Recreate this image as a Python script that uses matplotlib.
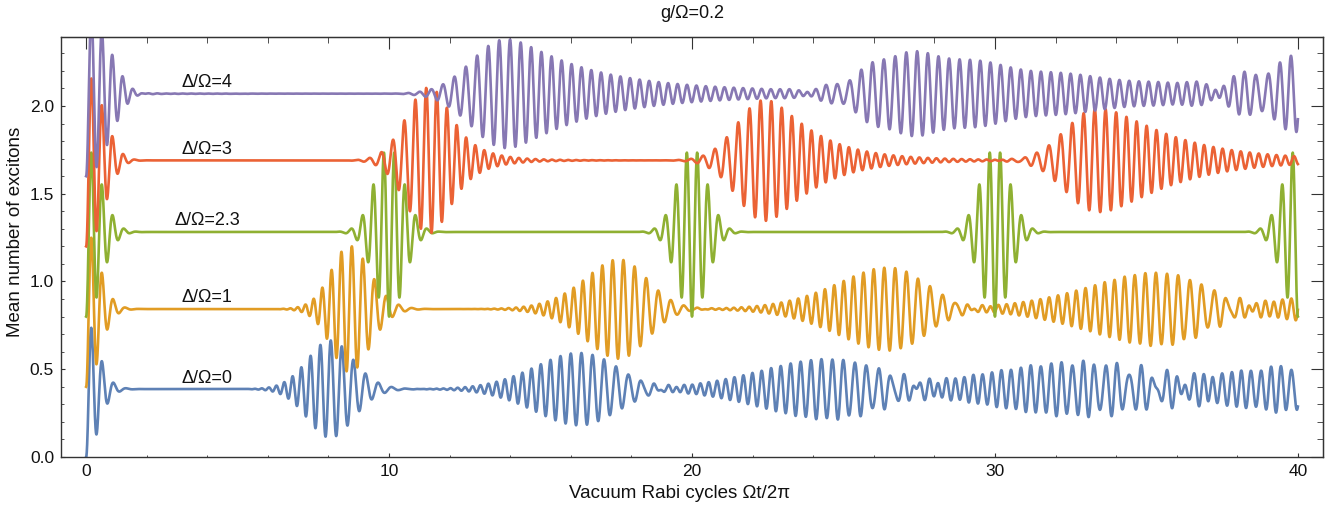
import numpy as np
import matplotlib
matplotlib.use("Agg")
import matplotlib.pyplot as plt
from math import lgamma, log

# ---- data ----
detuning_labels = ["Δ/Ω=0", "Δ/Ω=1", "Δ/Ω=2.3", "Δ/Ω=3", "Δ/Ω=4"]
colors = ["#5E81B5", "#E19C24", "#8FB032", "#EB6235", "#8778B3"]
start_values = [0.0, 0.4, 0.8, 1.2, 1.6]               # value at t = 0
collapsed_levels = [0.387, 0.843, 1.282, 1.690, 2.070]  # plateau after collapse
revival_periods = [8.0, 8.7, 10.0, 11.3, 14.3]          # in Rabi cycles
carrier_freqs = [2.9, 2.9, 2.9, 2.9, 2.9]               # oscillations per Rabi cycle
mean_quanta = [11.0, 11.0, 11.0, 11.0, 11.0]
revival_chirps = [0.0016, 0.0010, 0.0, -0.00065, -0.0013]
revival_skews = [0.00004, 0.00003, 0.0, -0.00003, -0.00007]
label_x = 4.0
x_major = [0, 10, 20, 30, 40]
y_major = [0.0, 0.5, 1.0, 1.5, 2.0]
title = "g/Ω=0.2"
xlabel = "Vacuum Rabi cycles Ωt/2π"
ylabel = "Mean number of excitons"

plt.rcParams['font.family'] = ['Liberation Sans', 'DejaVu Sans']

t = np.linspace(0, 40, 12000)
n = np.arange(0, 45)


def curve(start, level, T, f0, nbar, b2, b3):
    w = np.exp(np.array([k * log(nbar) - nbar - lgamma(k + 1) for k in n]))
    w /= w.sum()
    d = n - nbar
    f = f0 + d / T + b2 * d**2 + b3 * d**3
    osc = (w[:, None] * np.cos(2 * np.pi * f[:, None] * t[None, :])).sum(axis=0)
    return level - (level - start) * osc


fig = plt.figure(figsize=(13.44, 5.13), dpi=100)
ax = fig.add_axes([61 / 1344, 56 / 513, (1323 - 61) / 1344, (457 - 37) / 513])

for i in range(5):
    y = curve(start_values[i], collapsed_levels[i], revival_periods[i],
              carrier_freqs[i], mean_quanta[i], revival_chirps[i], revival_skews[i])
    ax.plot(t, y, color=colors[i], lw=1.9, zorder=2 + i * 0.1)
    ax.text(label_x, collapsed_levels[i] + 0.063, detuning_labels[i],
            ha='center', va='center', fontsize=13, color='#111111')

ax.set_xlim(-0.83, 40.83)
ax.set_ylim(0, 2.393)

frame_col = '#333333'
for s in ax.spines.values():
    s.set_color(frame_col)
    s.set_linewidth(1.0)

ax.set_xticks(x_major)
ax.set_xticks(np.arange(0, 41, 2), minor=True)
ax.set_yticks(y_major)
ax.set_yticks(np.arange(0, 2.39, 0.1), minor=True)
ax.set_xticklabels([str(v) for v in x_major])
ax.set_yticklabels([f"{v:.1f}" for v in y_major])
ax.tick_params(which='both', direction='in', top=False, right=False,
               colors=frame_col, labelcolor='#111111', labelsize=12.5)
ax.tick_params(which='major', length=3.0, width=0.8, pad=5)
ax.tick_params(which='minor', length=1.8, width=0.6)

secx = ax.secondary_xaxis('top')
secx.set_xticks(x_major)
secx.set_xticks(np.arange(0, 41, 2), minor=True)
secx.tick_params(which='both', direction='in', labeltop=False, labelbottom=False, colors=frame_col)
secx.tick_params(which='major', length=8.6, width=0.8)
secx.tick_params(which='minor', length=4.3, width=0.6)
secx.spines['top'].set_color(frame_col)

secy = ax.secondary_yaxis('right')
secy.set_yticks(y_major)
secy.set_yticks(np.arange(0, 2.39, 0.1), minor=True)
secy.tick_params(which='both', direction='in', labelright=False, labelleft=False, colors=frame_col)
secy.tick_params(which='major', length=8.6, width=0.8)
secy.tick_params(which='minor', length=4.3, width=0.6)
secy.spines['right'].set_color(frame_col)

fig.text(692 / 1344, 1 - 14 / 513, title, ha='center', va='center', fontsize=13, color='#111111')
fig.text(680 / 1344, 1 - 493 / 513, xlabel, ha='center', va='center', fontsize=13.5, color='#111111')
fig.text(16 / 1344, 1 - 232 / 513, ylabel, ha='center', va='center', rotation=90,
         fontsize=13.5, color='#111111')

fig.savefig("out.png", dpi=100)
